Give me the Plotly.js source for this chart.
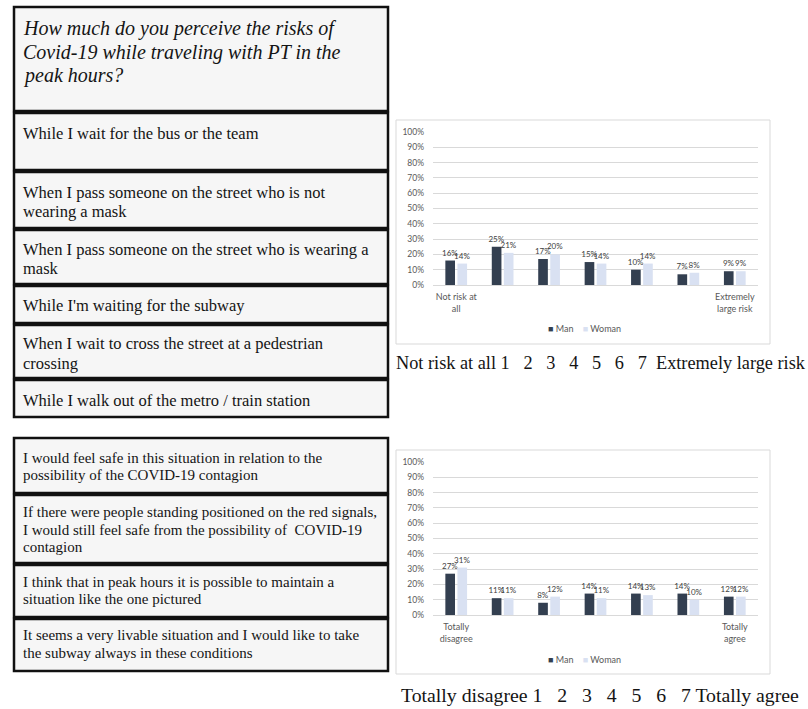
<!DOCTYPE html>
<html>
<head>
<meta charset="utf-8">
<script src="https://cdn.plot.ly/plotly-3.0.1.min.js"></script>
<style>html,body{margin:0;padding:0;background:#fff;}#chart{width:808px;height:709px;}</style>
</head>
<body>
<div id="chart"></div>
<script>
// ---- DATA ----
const categories = ['1', '2', '3', '4', '5', '6', '7'];
const riskTickText = ['Not risk at<br>all', '', '', '', '', '', 'Extremely<br>large risk'];
const safeTickText = ['Totally<br>disagree', '', '', '', '', '', 'Totally<br>agree'];
const seriesNames = ['Man', 'Woman'];
const riskMan = [16, 25, 17, 15, 10, 7, 9];
const riskWoman = [14, 21, 20, 14, 14, 8, 9];
const safeMan = [27, 11, 8, 14, 14, 14, 12];
const safeWoman = [31, 11, 12, 11, 13, 10, 12];

const riskQuestion = 'How much do you perceive the risks of<br>Covid-19 while traveling with PT in the<br>peak hours?';
const riskItems = [
  'While I wait for the bus or the team',
  'When I pass someone on the street who is not<br>wearing a mask',
  'When I pass someone on the street who is wearing a<br>mask',
  "While I'm waiting for the subway",
  'When I wait to cross the street at a pedestrian<br>crossing',
  'While I walk out of the metro / train station'
];
const safeItems = [
  'I would feel safe in this situation in relation to the<br>possibility of the COVID-19 contagion',
  'If there were people standing positioned on the red signals,<br>I would still feel safe from the possibility of  COVID-19<br>contagion',
  'I think that in peak hours it is possible to maintain a<br>situation like the one pictured',
  'It seems a very livable situation and I would like to take<br>the subway always in these conditions'
];
const sp = '\u00a0';
const riskCaption = 'Not risk at all 1' + sp.repeat(3) + '2' + sp.repeat(3) + '3' + sp.repeat(3) + '4' + sp.repeat(3) + '5' + sp.repeat(3) + '6' + sp.repeat(3) + '7' + sp.repeat(2) + 'Extremely large risk';
const safeCaption = 'Totally disagree 1' + sp.repeat(3) + '2' + sp.repeat(3) + '3' + sp.repeat(3) + '4' + sp.repeat(3) + '5' + sp.repeat(3) + '6' + sp.repeat(3) + '7 Totally agree';

// ---- STYLE / LAYOUT ----
const W = 808, H = 709;
const px = x => x / W;
const py = y => 1 - y / H;
const manColor = '#333f50';
const womanColor = '#d9e1f2';
const chartFont = 'Lato, "Open Sans", sans-serif';
const serif = '"Liberation Serif", "DejaVu Serif", serif';

function barTrace(vals, name, color, xa, ya) {
  return {
    type: 'bar', x: categories, y: vals, name: name,
    xaxis: xa, yaxis: ya, showlegend: false,
    marker: {color: color},
    text: vals.map(v => v + '%'), textposition: 'outside',
    constraintext: 'none', cliponaxis: false,
    textfont: {family: chartFont, size: 8, color: '#404040'},
    hoverinfo: 'skip'
  };
}

const data = [
  barTrace(riskMan, seriesNames[0], manColor, 'x', 'y'),
  barTrace(riskWoman, seriesNames[1], womanColor, 'x', 'y'),
  barTrace(safeMan, seriesNames[0], manColor, 'x2', 'y2'),
  barTrace(safeWoman, seriesNames[1], womanColor, 'x2', 'y2')
];

function yAxis(domain, anchor) {
  return {
    domain: domain, anchor: anchor, range: [0, 100], dtick: 10, ticksuffix: '%',
    showgrid: true, gridcolor: '#d9d9d9', gridwidth: 1,
    zeroline: true, zerolinecolor: '#d9d9d9', showline: false, ticks: '',
    ticklabelstandoff: 8, fixedrange: true,
    tickfont: {family: chartFont, size: 8.5, color: '#595959'}
  };
}
function xAxis(domain, anchor, tickText) {
  return {
    domain: domain, anchor: anchor, type: 'category',
    tickmode: 'array', tickvals: categories, ticktext: tickText,
    showgrid: false, zeroline: false, showline: false, ticks: '',
    ticklabelstandoff: 5, fixedrange: true,
    tickfont: {family: chartFont, size: 9, color: '#595959'}
  };
}

const shapes = [];
const annotations = [];
function box(y0, y1) {
  shapes.push({type: 'rect', xref: 'paper', yref: 'paper', x0: px(14), x1: px(388), y0: py(y1), y1: py(y0),
    line: {color: '#111', width: 2.5}, fillcolor: '#f6f6f6', layer: 'below'});
}
function label(text, centers, size, italic) {
  text.split('<br>').forEach((line, i) => {
    annotations.push({text: line, xref: 'paper', yref: 'paper', x: px(21), y: py(centers[i]), xanchor: 'left', yanchor: 'middle',
      align: 'left', showarrow: false,
      font: {family: serif, size: size, color: '#141414', style: italic ? 'italic' : 'normal'}});
  });
}

// top table
const topRows = [[7, 111], [113, 170], [172, 228], [230, 284], [286, 323], [325, 378], [380, 417]];
topRows.forEach(r => box(r[0], r[1]));
label(riskQuestion, [28, 52, 75], 20, true);
const topLines = [[133], [192, 212], [249, 268], [305], [343, 363], [400]];
riskItems.forEach((t, i) => label(t, topLines[i], 16.5, false));

// bottom table
const botRows = [[438, 493], [495, 563], [565, 617], [619, 671]];
botRows.forEach(r => box(r[0], r[1]));
const botLines = [[458, 475], [512, 530, 547], [582, 599], [635, 653]];
safeItems.forEach((t, i) => label(t, botLines[i], 15, false));

// chart frames
[[120, 344], [450, 674]].forEach(r => shapes.push({type: 'rect', xref: 'paper', yref: 'paper',
  x0: px(396), x1: px(770), y0: py(r[1]), y1: py(r[0]), line: {color: '#d9d9d9', width: 1}, layer: 'below'}));

// legends
function legendNote(y) {
  annotations.push({xref: 'paper', yref: 'paper', x: px(584), y: py(y), xanchor: 'center', yanchor: 'middle', showarrow: false,
    text: '<span style="color:' + manColor + '">■</span>' + sp + seriesNames[0] + sp.repeat(4) +
          '<span style="color:' + womanColor + '">■</span>' + sp + seriesNames[1],
    font: {family: chartFont, size: 9, color: '#595959'}});
}
legendNote(329);
legendNote(659);

// captions
annotations.push({text: riskCaption, xref: 'paper', yref: 'paper', x: px(394), y: py(363), xanchor: 'left', yanchor: 'middle',
  showarrow: false, font: {family: serif, size: 18.3, color: '#141414'}});
annotations.push({text: safeCaption, xref: 'paper', yref: 'paper', x: px(399), y: py(695), xanchor: 'left', yanchor: 'middle',
  showarrow: false, font: {family: serif, size: 19.8, color: '#141414'}});

const layout = {
  width: W, height: H, margin: {l: 0, r: 0, t: 0, b: 0},
  paper_bgcolor: '#ffffff', plot_bgcolor: 'rgba(0,0,0,0)',
  barmode: 'group', bargap: 0.48, bargroupgap: 0.2,
  showlegend: false,
  xaxis: xAxis([px(433), px(758)], 'y', riskTickText),
  yaxis: yAxis([py(285), py(132)], 'x'),
  xaxis2: xAxis([px(433), px(758)], 'y2', safeTickText),
  yaxis2: yAxis([py(615), py(462)], 'x2'),
  shapes: shapes, annotations: annotations
};

Plotly.newPlot('chart', data, layout, {displayModeBar: false, staticPlot: true});
</script>
</body>
</html>
